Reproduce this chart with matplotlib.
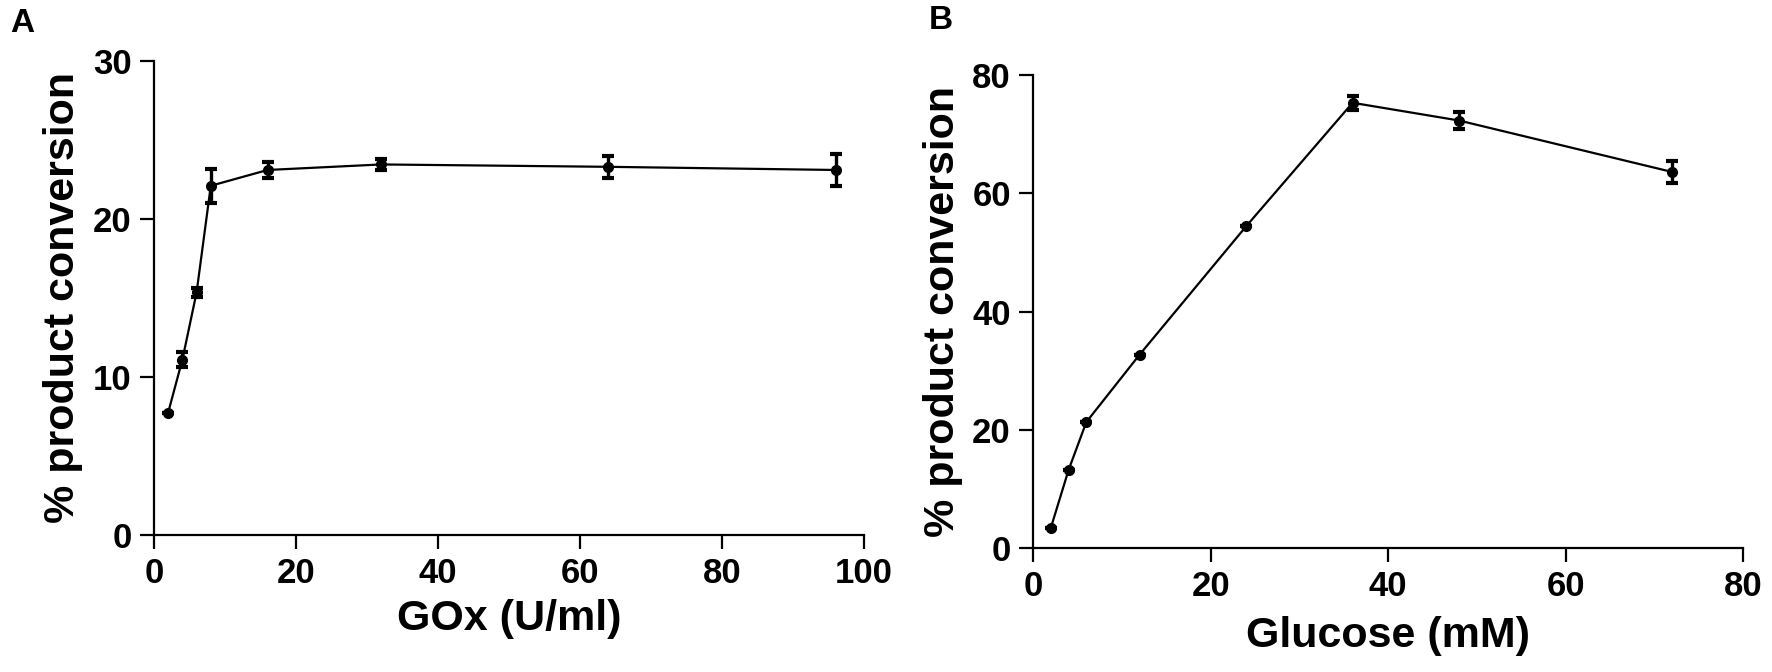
import matplotlib
matplotlib.use('Agg')
import matplotlib.pyplot as plt
from matplotlib import font_manager

# panel A: GOx titration
gox = [2, 4, 6, 8, 16, 32, 64, 96]
gox_conv = [7.75, 11.1, 15.35, 22.1, 23.1, 23.45, 23.3, 23.1]
gox_err = [0.0, 0.5, 0.27, 1.07, 0.5, 0.35, 0.7, 1.0]

# panel B: glucose titration
glucose = [2, 4, 6, 12, 24, 36, 48, 72]
glucose_conv = [3.4, 13.2, 21.3, 32.7, 54.4, 75.3, 72.3, 63.6]
glucose_err = [0.0, 0.0, 0.0, 0.0, 0.0, 1.2, 1.45, 1.8]

names = set(f.name for f in font_manager.fontManager.ttflist)
fam = 'Liberation Sans Narrow' if 'Liberation Sans Narrow' in names else 'Liberation Sans'
plt.rcParams['font.family'] = [fam, 'DejaVu Sans']
plt.rcParams['font.weight'] = 'bold'

fig = plt.figure(figsize=(17.72, 6.72), dpi=100)
axA = fig.add_axes([0.0869, 0.2039, 0.4007, 0.7054])
axB = fig.add_axes([0.5830, 0.1845, 0.4007, 0.7039])


def style(ax, xlabel, xpad):
    for s in ['top', 'right']:
        ax.spines[s].set_visible(False)
    for s in ['left', 'bottom']:
        ax.spines[s].set_linewidth(1.6)
    ax.tick_params(width=1.6, length=10, direction='out', labelsize=25, pad=6)
    for lab in ax.get_xticklabels() + ax.get_yticklabels():
        lab.set_fontweight('bold')
    ax.set_xlabel(xlabel, fontsize=31, fontweight='bold', labelpad=xpad)
    ax.set_ylabel('% product conversion', fontsize=31, fontweight='bold', labelpad=7)


axA.errorbar(gox, gox_conv, yerr=gox_err, color='black', lw=1.6, marker='o', ms=7,
             capsize=4.5, capthick=3, elinewidth=2.4)
axA.set_xlim(0, 100)
axA.set_ylim(0, 30)
axA.set_xticks([0, 20, 40, 60, 80, 100])
axA.set_yticks([0, 10, 20, 30])
style(axA, 'GOx (U/ml)', 6)

axB.errorbar(glucose, glucose_conv, yerr=glucose_err, color='black', lw=1.6, marker='o', ms=7,
             capsize=4.5, capthick=3, elinewidth=2.4)
axB.set_xlim(0, 80)
axB.set_ylim(0, 80)
axB.set_xticks([0, 20, 40, 60, 80])
axB.set_yticks([0, 20, 40, 60, 80])
style(axB, 'Glucose (mM)', 9)

fig.text(0.006, 0.965, 'A', fontsize=24, fontweight='bold', va='center', family='Liberation Sans')
fig.text(0.524, 0.97, 'B', fontsize=24, fontweight='bold', va='center', family='Liberation Sans')

fig.savefig('out.png', dpi=100)
